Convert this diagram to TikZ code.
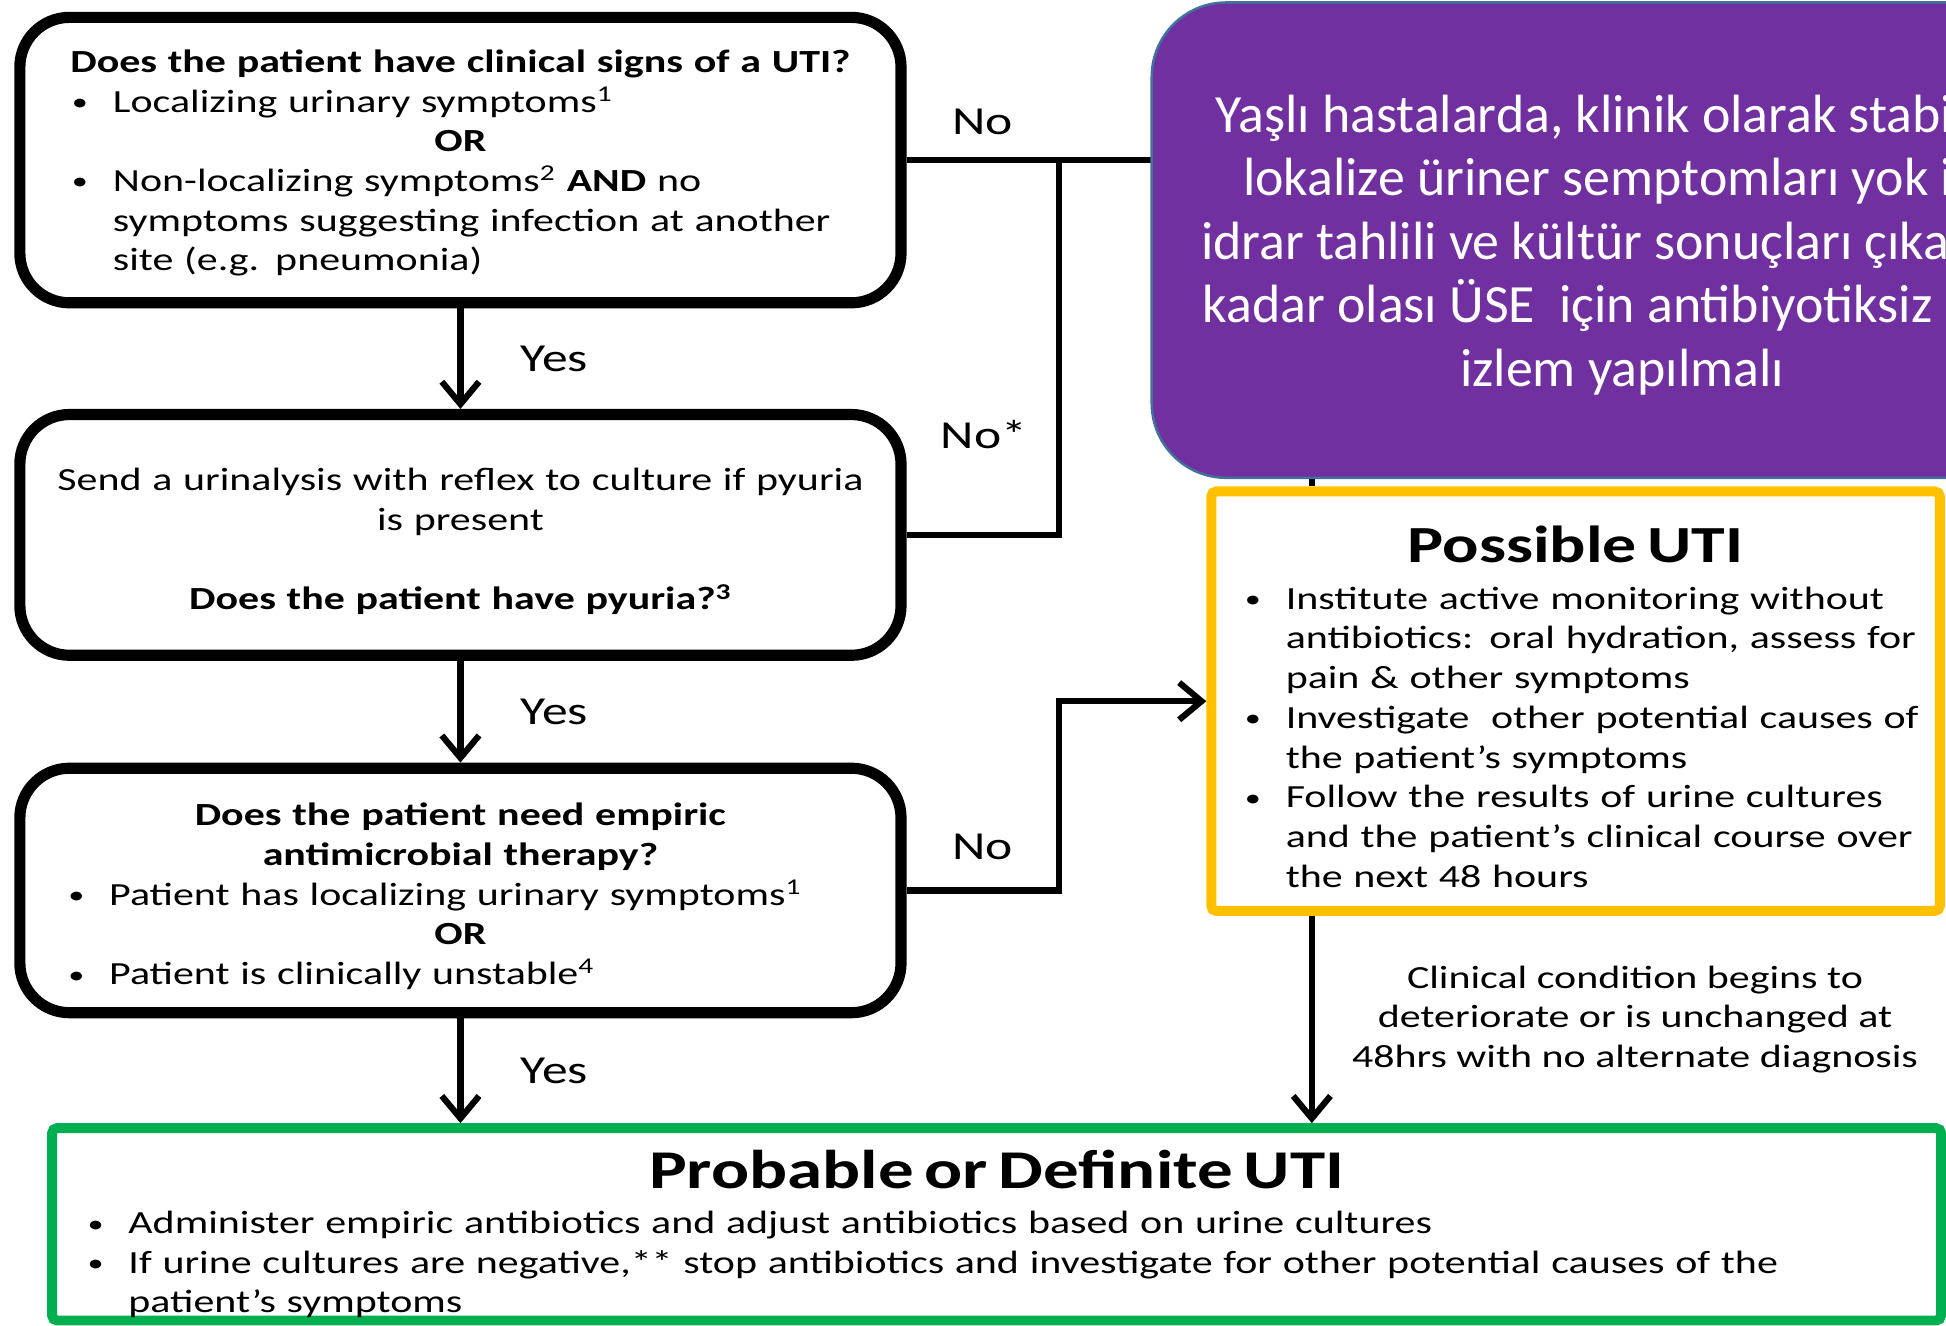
\documentclass[tikz,border=0pt]{standalone}
\usepackage{fontspec}
\setmainfont{Carlito}[FakeStretch=1.3]
\newfontfamily\notefont{Carlito}
\usepackage{tikz}
\usetikzlibrary{positioning,arrows.meta}
\definecolor{notepurple}{RGB}{112,48,160}
\definecolor{noteborder}{RGB}{65,113,156}
\definecolor{possyellow}{RGB}{255,192,0}
\definecolor{probgreen}{RGB}{0,176,80}

\newlength\bulskip
\newcommand{\bitem}[1]{\par{\leftskip=\bulskip\hangindent=16.5pt\hangafter=1\noindent
    \makebox[16.5pt][l]{\raisebox{0.6pt}{\fontsize{10}{10}\selectfont\textbullet}}#1\par}}
\newcommand{\ctrline}[1]{{\centering #1\par}}

\begin{document}
\begin{tikzpicture}[x=0.5pt, y=-0.5pt, >={Straight Barb[length=9pt,width=15pt]},
    qbox/.style={draw, line width=4.5pt, rounded corners=20pt, inner sep=0pt,
      minimum width=355pt, text width=350pt, align=left, font=\fontsize{13}{16}\selectfont},
    resbox/.style={draw, line width=4pt, rounded corners=2pt, inner sep=0pt,
      align=left, font=\fontsize{13}{16}\selectfont},
    conn/.style={line width=2.5pt},
    lbl/.style={inner sep=0pt, font=\fontsize{16}{19}\selectfont}]
    \useasboundingbox (0,0) rectangle (1568,1068);
    \clip (0,0) rectangle (1568,1068);

    \node[qbox, minimum height=115pt] (clin) at (371,129) {\setlength\bulskip{18.5pt}%
        \ctrline{\rule{0pt}{11.5pt}\bfseries Does the patient have clinical signs of a UTI?}
        \bitem{Localizing urinary symptoms\textsuperscript{1}}
        \ctrline{\bfseries OR}
        \bitem{Non-localizing symptoms\textsuperscript{2} \textbf{AND} no\newline symptoms suggesting infection at another\newline site (e.g. pneumonia)}};
    \node[qbox, minimum height=97pt, align=center, below=40.5pt of clin] (pyur) {%
        \rule{0pt}{14.5pt}Send a urinalysis with reflex to culture if pyuria\\ is present\\[16pt]
        \textbf{Does the patient have pyuria?\textsuperscript{3}}};
    \node[qbox, minimum height=98.5pt, below=41pt of pyur] (empir) {\setlength\bulskip{17pt}%
        \ctrline{\rule{0pt}{14pt}\bfseries Does the patient need empiric\\ antimicrobial therapy?}
        \bitem{Patient has localizing urinary symptoms\textsuperscript{1}}
        \ctrline{\bfseries OR}
        \bitem{Patient is clinically unstable\textsuperscript{4}}};

    \node[resbox, draw=possyellow, minimum width=293.5pt, minimum height=169pt, text width=279.5pt] (possible) at (1269.5,565) {\setlength\bulskip{6.5pt}%
        \ctrline{\fontsize{21}{25}\selectfont\rule{0pt}{19pt}\bfseries Possible UTI}\vspace{3pt}
        \bitem{Institute active monitoring without\newline antibiotics: oral hydration, assess for\newline pain \& other symptoms}
        \bitem{Investigate\ \ other potential causes of\newline the patient’s symptoms}
        \bitem{Follow the results of urine cultures\newline and the patient’s clinical course over\newline the next 48 hours}};
    \node[resbox, draw=probgreen, minimum width=761pt, minimum height=77.5pt, text width=732.5pt] (probable) at (803,986.5) {\setlength\bulskip{0pt}%
        \ctrline{\fontsize{22}{26}\selectfont\rule{0pt}{23.5pt}\bfseries Probable or Definite UTI}\vspace{2pt}
        \bitem{Administer empiric antibiotics and adjust antibiotics based on urine cultures}
        \bitem{If urine cultures are negative,** stop antibiotics and investigate for other potential causes of the\newline patient’s symptoms}};

    \coordinate (j1) at (853,129);
    \coordinate (drop) at (1057,129);
    \coordinate (j3) at (853,565);

    \draw[conn] (clin.east) -- node[lbl, above=9pt] {No} (j1);
    \draw[conn] (j1) -- (drop) -- (drop |- possible.north);
    \draw[conn] (pyur.east) -| node[lbl, pos=0.634, left=11.5pt] {No*} (j1);
    \draw[conn, ->] (empir.east) -| node[lbl, pos=0.25, above=11pt] {No} (j3) -- (possible.west);

    \draw[conn, ->] (clin) -- node[lbl, right=23pt] {Yes} (pyur);
    \draw[conn, ->] (pyur) -- node[lbl, right=23pt] {Yes} (empir);
    \draw[conn, ->] (empir.south) -- node[lbl, right=23pt] {Yes} (empir.south |- probable.north);
    \draw[conn, ->] (drop |- possible.south) -- node[right=15pt, inner sep=0pt, align=center, font=\fontsize{13}{16}\selectfont]
        {Clinical condition begins to\\ deteriorate or is unchanged at\\ 48hrs with no alternate diagnosis} (drop |- probable.north);

    \node[draw=noteborder, fill=notepurple, line width=1pt, rounded corners=30pt, minimum width=379pt, minimum height=191.5pt,
        text=white, align=center, font=\notefont\fontsize{21.7}{25.6}\selectfont] (note) at (1307,193.5)
        {\rule{0pt}{19pt}Yaşlı hastalarda, klinik olarak stabil ve\\ lokalize üriner semptomları yok ise\\ idrar tahlili ve kültür sonuçları çıkana\kern16pt\\
         kadar olası ÜSE\ \ için antibiyotiksiz aktif\\ izlem yapılmalı};
\end{tikzpicture}
\end{document}
